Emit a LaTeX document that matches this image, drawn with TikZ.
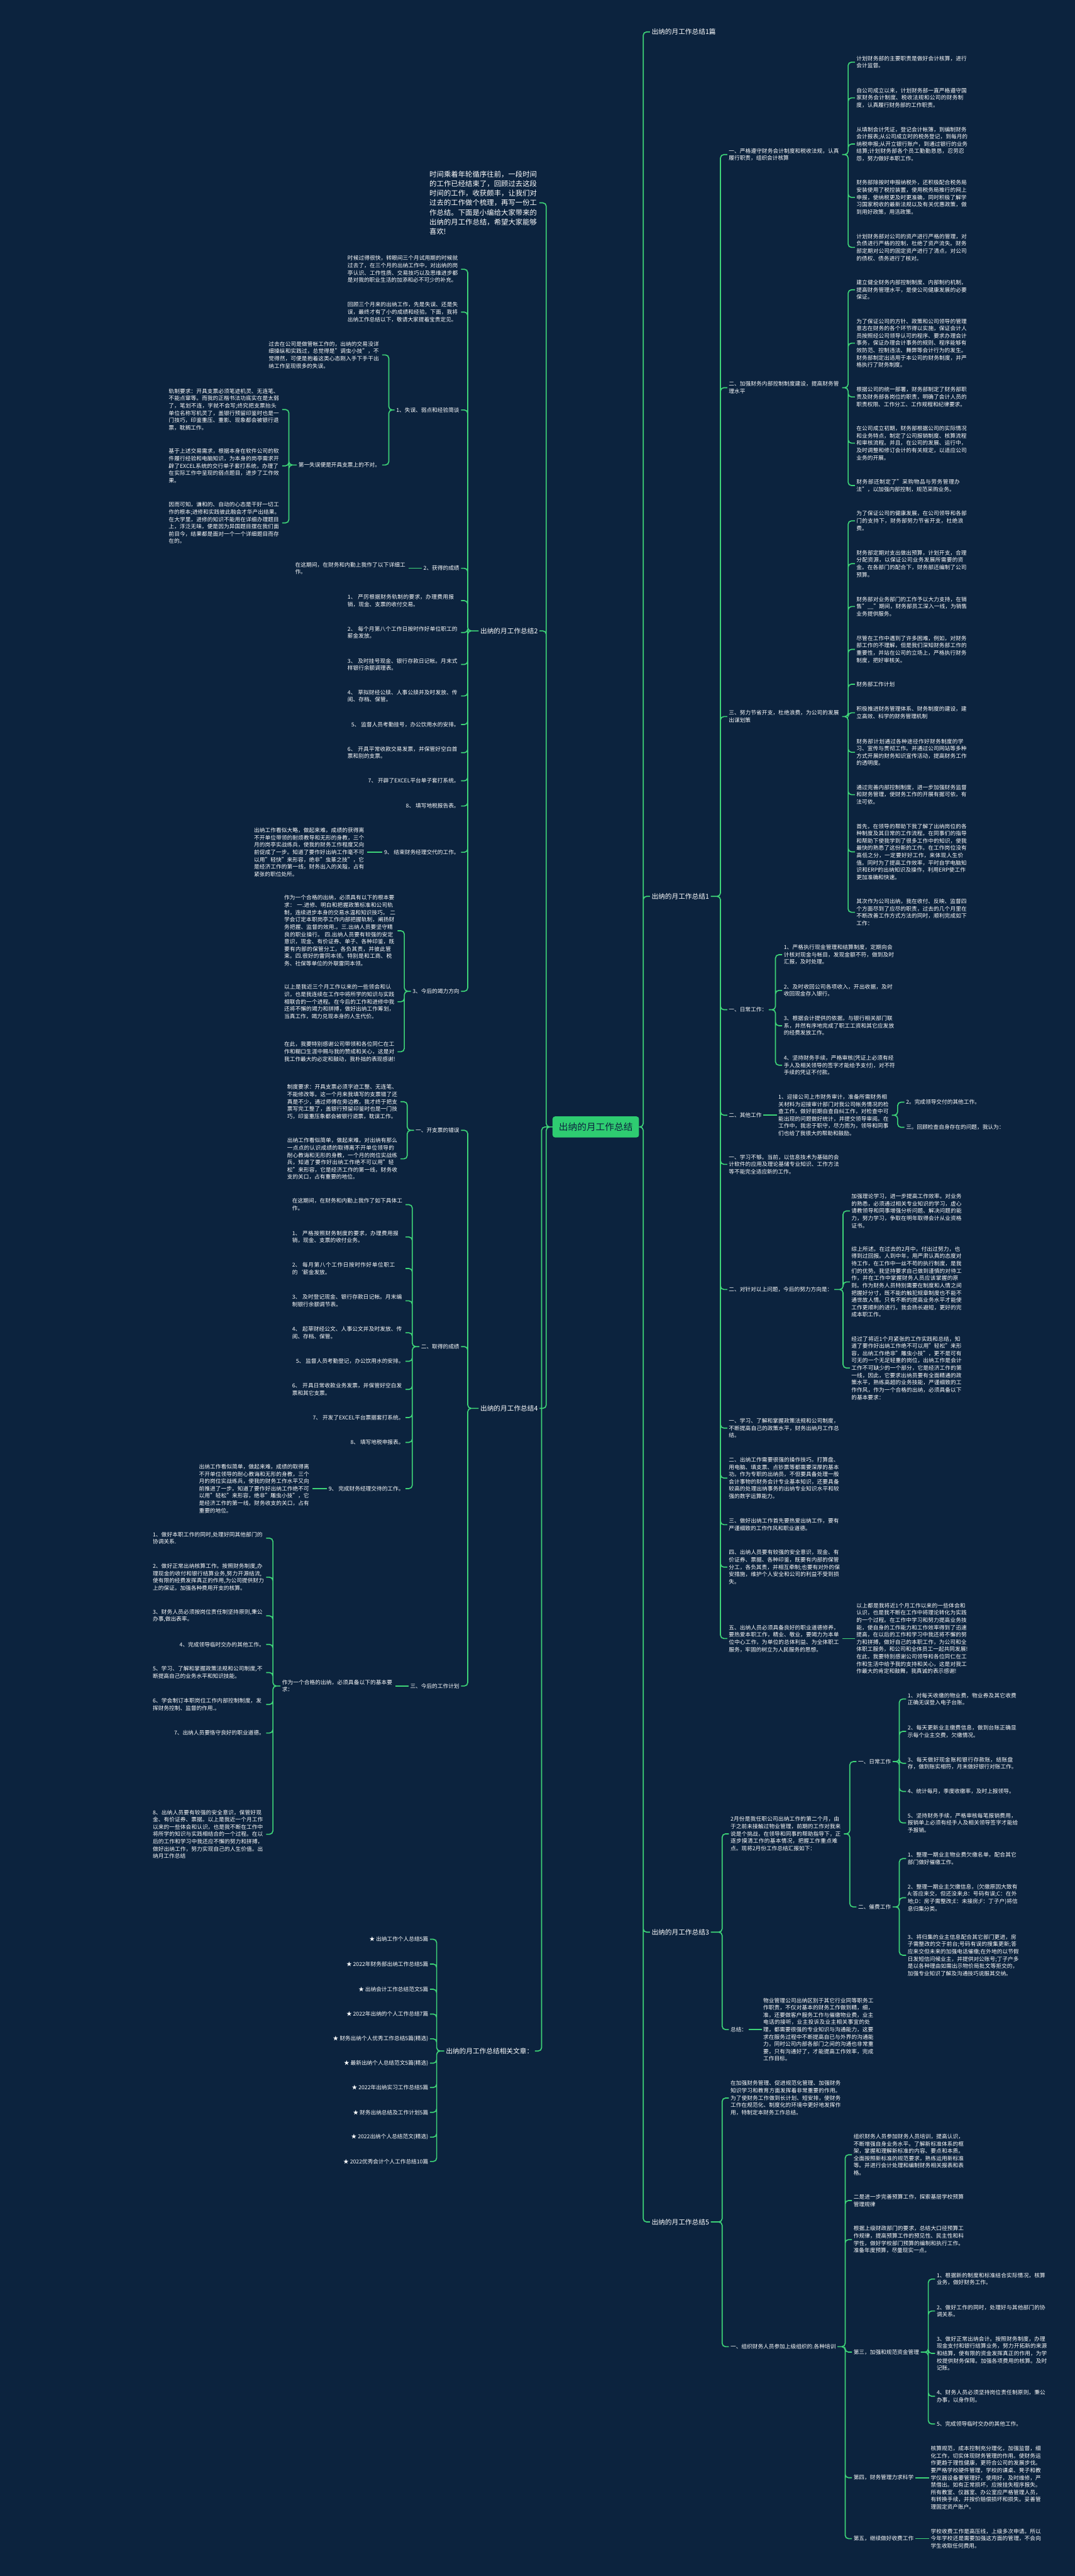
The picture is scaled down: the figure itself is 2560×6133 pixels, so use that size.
\documentclass[tikz,border=0pt]{standalone}
\usepackage{fontspec}
\setmainfont{Noto Sans CJK SC}
\XeTeXlinebreaklocale "zh"
\XeTeXlinebreakskip = 0pt plus 1pt
\usetikzlibrary{calc}
\definecolor{bgblue}{RGB}{12,35,62}
\definecolor{linegreen}{RGB}{62,212,120}
\definecolor{rootgreen}{RGB}{46,204,113}

\begin{document}
\begin{tikzpicture}[x=1pt,y=-1pt,
    every node/.append style={text=white,inner sep=0pt,outer sep=4pt,font=\fontsize{13}{17.4}\selectfont},
    para/.style={text width=266pt,align=left},
    lbl/.style={font=\fontsize{16}{20}\selectfont},
    rootbox/.style={fill=rootgreen,text=bgblue,font=\fontsize{22}{26}\selectfont,rounded corners=6pt,
        minimum width=206pt,minimum height=50pt,outer sep=0pt},
    link/.style={draw=linegreen,line width=2.5pt},
    linkR/.style={link,rounded corners=8pt,to path={-| ($(\tikztotarget)+(-16,0)$) -- (\tikztotarget)}},
    linkL/.style={link,rounded corners=8pt,to path={-| ($(\tikztotarget)+(16,0)$) -- (\tikztotarget)}}
  ]
  \useasboundingbox[fill=bgblue] (0,0) rectangle (2560,6133);

  \node[rootbox] (root) at (1419,2683) {出纳的月工作总结};

  % left side
  \node[para,anchor=east,text width=258pt,font=\fontsize{17}{22.7}\selectfont] (intro) at (1285,483) {时间乘着年轮循序往前，一段时间的工作已经结束了，回顾过去这段时间的工作，收获颇丰，让我们对过去的工作做个梳理，再写一份工作总结。下面是小编给大家带来的出纳的月工作总结，希望大家能够喜欢!};

  \node[lbl,anchor=east] (s2) at (1285,1502) {出纳的月工作总结2};
  \node[para,anchor=east] (s2a) at (1098,641) {时候过得很快，转眼间三个月试用期的时候就过去了，在三个月的出纳工作中，对出纳的岗亭认识、工作性质、交易技巧以及思维进步都是对我的职业生活的加添和必不可少的补充。};
  \node[para,anchor=east] (s2b) at (1098,743) {回顾三个月来的出纳工作，先是失误、还是失误，最终才有了小的成绩和经验。下面，我将出纳工作总结以下，敬请大家提着宝贵定见。};
  \node[anchor=east] (s2c) at (1098,976) {1、失误、弱点和经验简谈};
  \node[para,anchor=east] (s2c1) at (910,845) {过去在公司是做管帐工作的，出纳的交易没详细操纵和实践过，总觉得是"调虫小技"，不觉得然，可便是抱着这类心态刚入手下手干出纳工作呈现很多的失误。};
  \node[anchor=east] (s2c2) at (910,1107) {第一失误便是开具支票上的不对。};
  \node[para,anchor=east] (s2c2a) at (672,975) {轨制要求：开具支票必须笔迹机灵、无连笔、不能点窜等。而我的正楷书法功底实在是太弱了，笔划不连，字就不会写;终究把支票抬头单位名称写机灵了，盖银行预留印鉴时也是一门技巧，印鉴重压、重影、现象都会被银行退票，耽搁工作。};
  \node[para,anchor=east] (s2c2b) at (672,1109) {基于上述交易需求，根据本身在软件公司的软件履行经验和电脑知识，为本身的岗亭需求开辟了EXCEL系统的交行单子套打系统，办理了在实际工作中呈现的弱点题目，进步了工作效果。};
  \node[para,anchor=east] (s2c2c) at (672,1245) {因而可知，谦和的、自动的心态是干好一切工作的根本;进修和实践彼此融会才华产出结果。在大学里，进修的知识不能用在详细办理题目上，浮泛无味，便是因为异国题目摆在我们面前目今，结果都是面对一个一个详细题目而存在的。};
  \node[anchor=east] (s2d) at (1098,1353) {2、获得的成绩};
  \node[para,anchor=east] (s2d1) at (973,1353) {在这期间，在财务和内勤上我作了以下详细工作。};
  \node[para,anchor=east] (s2e1) at (1098,1430) {1、 严厉根据财务轨制的要求，办理费用报销，现金、支票的收付交易。};
  \node[para,anchor=east] (s2e2) at (1098,1506) {2、 每个月第八个工作日按时作好单位职工的薪金发放。};
  \node[para,anchor=east] (s2e3) at (1098,1582) {3、 及时挂号现金、银行存款日记帐。月末式样银行余额调理表。};
  \node[para,anchor=east] (s2e4) at (1098,1657) {4、 草拟财经公牍、人事公牍并及时发放、传阅、存档、保管。};
  \node[anchor=east] (s2e5) at (1098,1725) {5、 监督人员考勤挂号，办公饮用水的安排。};
  \node[para,anchor=east] (s2e6) at (1098,1792) {6、 开具平常收款交易发票，并保管好空白首票和别的支票。};
  \node[anchor=east] (s2e7) at (1098,1859) {7、 开辟了EXCEL平台单子套打系统。};
  \node[anchor=east] (s2e8) at (1098,1919) {8、 填写地税报告表。};
  \node[anchor=east] (s2e9) at (1098,2029) {9、 结束财务经理交代的工作。};
  \node[para,anchor=east] (s2e9a) at (875,2029) {出纳工作看似大略，做起来难，成绩的获得离不开单位带领的耐烦教导和无形的身教，三个月的岗亭实战练兵，使我的财务工作程度又向前促成了一步。知道了要作好出纳工作毫不可以用"轻快"来形容，绝非"虫篆之技"，它是经济工作的第一线，财务出入的关隘，占有紧张的职位处所。};
  \node[anchor=east] (s2f) at (1098,2360) {3、今后的竭力方向};
  \node[para,anchor=east] (s2f1) at (947,2216) {作为一个合格的出纳，必须具有以下的根本要求： 一.进修、明白和把握政策标准和公司轨制，连续进步本身的交易水温和知识技巧。 二学会订定本职岗亭工作内部把握轨制，阐扬财务把握、监督的效用.。三.出纳人员要坚守精良的职业操行。 四.出纳人员要有较强的安定意识，现金、有价证券、单子、各种印鉴，既要有内部的保管分工，各负其责，并彼此管束。四.很好的雷同本领。特别是和工商、税务、社保等单位的外联雷同本领。};
  \node[para,anchor=east] (s2f2) at (947,2385) {以上是我近三个月工作以来的一些领会和认识，也是我连续在工作中将所学的知识与实践相联合的一个进程。在今后的工作和进修中我还将不懈的竭力和拼搏，做好出纳工作筹划，当真工作，竭力兑现本身的人生代价。};
  \node[para,anchor=east] (s2f3) at (947,2504) {在此，我要特别感谢公司带领和各位同仁在工作和糊口生涯中赐与我的赞成和关心，这是对我工作最大的必定和鼓动，我朴拙的表现感谢!};

  \node[lbl,anchor=east] (s4) at (1285,3353) {出纳的月工作总结4};
  \node[anchor=east] (s4a) at (1098,2691) {一、开支票的错误};
  \node[para,anchor=east] (s4a1) at (954,2623) {制度要求：开具支票必须字迹工整、无连笔、不能修改等。这一个月来我填写的支票错了还真是不少，通过师傅在旁边教，我才终于把支票写完工整了，盖银行预留印鉴时也是一门技巧，印鉴重压象都会被银行退票，耽误工作。};
  \node[para,anchor=east] (s4a2) at (954,2759) {出纳工作看似简单，做起来难，对出纳有那么一点点的认识成绩的取得离不开单位领导的耐心教诲和无形的身教，一个月的岗位实战练兵，知道了要作好出纳工作绝不可以用"轻松"来形容，它是经济工作的第一线，财务收支的关口，占有重要的地位。};
  \node[anchor=east] (s4b) at (1098,3206) {二、取得的成绩};
  \node[para,anchor=east] (s4b1) at (966,2868) {在这期间，在财务和内勤上我作了如下具体工作。};
  \node[para,anchor=east] (s4b2) at (966,2945) {1、 严格按照财务制度的要求，办理费用报销，现金、支票的收付业务。};
  \node[para,anchor=east] (s4b3) at (966,3020) {2、 每月第八个工作日按时作好单位职工的`薪金发放。};
  \node[para,anchor=east] (s4b4) at (966,3097) {3、 及时登记现金、银行存款日记帐。月末编制银行余额调节表。};
  \node[para,anchor=east] (s4b5) at (966,3173) {4、 起草财经公文、人事公文并及时发放、传阅、存档、保管。};
  \node[anchor=east] (s4b6) at (966,3241) {5、 监督人员考勤登记，办公饮用水的安排。};
  \node[para,anchor=east] (s4b7) at (966,3308) {6、 开具日常收款业务发票，并保管好空白发票和其它支票。};
  \node[anchor=east] (s4b8) at (966,3375) {7、 开发了EXCEL平台票据套打系统。};
  \node[anchor=east] (s4b9) at (966,3434) {8、 填写地税申报表。};
  \node[anchor=east] (s4b10) at (966,3544) {9、 完成财务经理交待的工作。};
  \node[para,anchor=east] (s4b10a) at (744,3544) {出纳工作看似简单，做起来难，成绩的取得离不开单位领导的耐心教诲和无形的身教，三个月的岗位实战练兵，使我的财务工作水平又向前推进了一步。知道了要作好出纳工作绝不可以用"轻松"来形容，绝非"雕虫小技"，它是经济工作的第一线，财务收支的关口，占有重要的地位。};
  \node[anchor=east] (s4c) at (1098,4014) {三、今后的工作计划};
  \node[para,anchor=east] (s4c1) at (942,4014) {作为一个合格的出纳，必须具备以下的基本要求：};
  \node[para,anchor=east] (s4c1a) at (634,3662) {1、做好本职工作的同时,处理好同其他部门的协调关系.};
  \node[para,anchor=east] (s4c1b) at (634,3755) {2、做好正常出纳核算工作。按照财务制度,办理现金的收付和银行结算业务,努力开源结流,使有限的经费发挥真正的作用,为公司提供财力上的保证。加强各种费用开支的核算。};
  \node[para,anchor=east] (s4c1c) at (634,3847) {3、财务人员必须按岗位责任制坚持原则,秉公办事,做出表率。};
  \node[anchor=east] (s4c1d) at (634,3915) {4、完成领导临时交办的其他工作。};
  \node[para,anchor=east] (s4c1e) at (634,3982) {5、学习、了解和掌握政策法规和公司制度,不断提高自己的业务水平和知识技能。};
  \node[para,anchor=east] (s4c1f) at (634,4058) {6、学会制订本职岗位工作内部控制制度，发挥财务控制、监督的作用.。};
  \node[anchor=east] (s4c1g) at (634,4126) {7、出纳人员要恪守良好的职业道德。};
  \node[para,anchor=east] (s4c1h) at (634,4367) {8、出纳人员要有较强的安全意识，保管好现金、有价证券、票据。以上是我近一个月工作以来的一些体会和认识，也是我不断在工作中将所学的知识与实践相结合的一个过程。在以后的工作和学习中我还应不懈的努力和拼搏，做好出纳工作，努力实现自己的人生价值。出纳月工作总结};

  \node[lbl,anchor=east] (rel) at (1274,4883) {出纳的月工作总结相关文章：};
  \node[anchor=east] (rel1) at (1024,4617) {★ 出纳工作个人总结5篇};
  \node[anchor=east] (rel2) at (1024,4676) {★ 2022年财务部出纳工作总结5篇};
  \node[anchor=east] (rel3) at (1024,4736) {★ 出纳会计工作总结范文5篇};
  \node[anchor=east] (rel4) at (1024,4795) {★ 2022年出纳的个人工作总结7篇};
  \node[anchor=east] (rel5) at (1024,4854) {★ 财务出纳个人优秀工作总结5篇(精选)};
  \node[anchor=east] (rel6) at (1024,4912) {★ 最新出纳个人总结范文5篇(精选)};
  \node[anchor=east] (rel7) at (1024,4970) {★ 2022年出纳实习工作总结5篇};
  \node[anchor=east] (rel8) at (1024,5029) {★ 财务出纳总结及工作计划5篇};
  \node[anchor=east] (rel9) at (1024,5088) {★ 2022出纳个人总结范文(精选)};
  \node[anchor=east] (rel10) at (1024,5146) {★ 2022优秀会计个人工作总结10篇};

  % right side
  \node[lbl,anchor=west] (s1p) at (1548,76) {出纳的月工作总结1篇};

  \node[lbl,anchor=west] (s1) at (1548,2134) {出纳的月工作总结1};
  \node[para,anchor=west] (s1a) at (1732,368) {一、严格遵守财务会计制度和税收法规，认真履行职责，组织会计核算};
  \node[para,anchor=west] (s1a1) at (2036,148) {计划财务部的主要职责是做好会计核算，进行会计监督。};
  \node[para,anchor=west] (s1a2) at (2036,233) {自公司成立以来，计划财务部一直严格遵守国家财务会计制度、税收法规和公司的财务制度，认真履行财务部的工作职责。};
  \node[para,anchor=west] (s1a3) at (2036,343) {从填制会计凭证，登记会计帐簿，到编制财务会计报表;从公司成立时的税务登记，到每月的纳税申报;从开立银行账户，到通过银行的业务结算;计划财务部各个员工勤勤恳恳，忍劳忍怨，努力做好本职工作。};
  \node[para,anchor=west] (s1a4) at (2036,470) {财务部除按时申报纳税外，还积极配合税务局安装使用了税控装置，使用税务局推行的网上申报，使纳税更及时更准确，同时积极了解学习国家税收的最新法规以及有关优惠政策，做到用好政策，用活政策。};
  \node[para,anchor=west] (s1a5) at (2036,589) {计划财务部对公司的资产进行严格的管理，对负债进行严格的控制，杜绝了资产流失。财务部定期对公司的固定资产进行了清点，对公司的债权、债务进行了核对。};
  \node[para,anchor=west] (s1b) at (1732,923) {二、加强财务内部控制制度建设，提高财务管理水平};
  \node[para,anchor=west] (s1b1) at (2036,690) {建立健全财务内部控制制度、内部制约机制，提高财务管理水平，是使公司健康发展的必要保证。};
  \node[para,anchor=west] (s1b2) at (2036,817) {为了保证公司的方针、政策和公司领导的管理意志在财务的各个环节得以实施，保证会计人员按照经公司领导认可的程序、要求办理会计事务，保证办理会计事务的规则、程序能够有效防范、控制违法、舞弊等会计行为的发生。财务部制定出适用于本公司的财务制度，并严格执行了财务制度。};
  \node[para,anchor=west] (s1b3) at (2036,945) {根据公司的统一部署，财务部制定了财务部职责及财务部各岗位的职责，明确了会计人员的职责权限、工作分工、工作规程和纪律要求。};
  \node[para,anchor=west] (s1b4) at (2036,1055) {在公司成立初期，财务部根据公司的实际情况和业务特点，制定了公司报销制度、核算流程和审核流程。并且，在公司的发展、运行中，及时调整和修订会计的有关规定，以适应公司业务的开展。};
  \node[para,anchor=west] (s1b5) at (2036,1156) {财务部还制定了"采购物品与劳务管理办法"，以加强内部控制，规范采购业务。};
  \node[para,anchor=west] (s1c) at (1732,1706) {三、努力节省开支，杜绝浪费，为公司的发展出谋划策};
  \node[para,anchor=west] (s1c1) at (2036,1240) {为了保证公司的健康发展，在公司领导和各部门的支持下，财务部努力节省开支，杜绝浪费。};
  \node[para,anchor=west] (s1c2) at (2036,1342) {财务部定期对支出做出预算，计划开支，合理分配资源，以保证公司业务发展所需要的资金。在各部门的配合下，财务部还编制了公司预算。};
  \node[para,anchor=west] (s1c3) at (2036,1444) {财务部对业务部门的工作予以大力支持，在销售"\_\_"期间，财务部员工深入一线，为销售业务提供服务。};
  \node[para,anchor=west] (s1c4) at (2036,1546) {尽管在工作中遇到了许多困难，例如，对财务部工作的不理解，但是我们深知财务部工作的重要性，并站在公司的立场上，严格执行财务制度，把好审核关。};
  \node[anchor=west] (s1c5) at (2036,1629) {财务部工作计划};
  \node[para,anchor=west] (s1c6) at (2036,1697) {积极推进财务管理体系、财务制度的建设，建立高效、科学的财务管理机制};
  \node[para,anchor=west] (s1c7) at (2036,1791) {财务部计划通过各种途径作好财务制度的学习、宣传与贯彻工作。并通过公司网站等多种方式开展的财务知识宣传活动，提高财务工作的透明度。};
  \node[para,anchor=west] (s1c8) at (2036,1892) {通过完善内部控制制度，进一步加强财务监督和财务管理，使财务工作的开展有据可依，有法可依。};
  \node[para,anchor=west] (s1c9) at (2036,2028) {首先，在领导的帮助下我了解了出纳岗位的各种制度及其日常的工作流程。在同事们的指导和帮助下使我学到了很多工作中的知识，使我最快的熟悉了这份新的工作。在工作岗位没有高低之分，一定要好好工作，来体现人生价值。同时为了提高工作效率，平时自学电脑知识和ERP的出纳知识及操作，利用ERP使工作更加准确和快速。};
  \node[para,anchor=west] (s1c10) at (2036,2172) {其次作为公司出纳，我在收付、反映、监督四个方面尽到了应尽的职责，过去的几个月里在不断改善工作方式方法的同时，顺利完成如下工作：};
  \node[anchor=west] (s1d) at (1732,2404) {一、日常工作：};
  \node[para,anchor=west] (s1d1) at (1863,2273) {1、严格执行现金管理和结算制度，定期向会计核对现金与帐目，发现金额不符，做到及时汇报，及时处理。};
  \node[para,anchor=west] (s1d2) at (1863,2358) {2、及时收回公司各项收入，开出收据，及时收回现金存入银行。};
  \node[para,anchor=west] (s1d3) at (1863,2442) {3、根据会计提供的依据，与银行相关部门联系，井然有序地完成了职工工资和其它应发放的经费发放工作。};
  \node[para,anchor=west] (s1d4) at (1863,2536) {4、坚持财务手续，严格审核(凭证上必须有经手人及相关领导的签字才能给予支付)，对不符手续的凭证不付款。};
  \node[anchor=west] (s1e) at (1732,2655) {二、其他工作};
  \node[para,anchor=west] (s1e1) at (1850,2655) {1、迎接公司上市财务审计，准备所需财务相关材料为迎接审计部门对我公司帐务情况的检查工作，做好前期自查自纠工作，对检查中可能出现的问题做好统计，并提交领导审阅。在工作中，我忠于职守，尽力而为，领导和同事们也给了我很大的帮助和鼓励。};
  \node[anchor=west] (s1e1a) at (2154,2624) {2。完成领导交付的其他工作。};
  \node[anchor=west] (s1e1b) at (2154,2684) {三。回顾检查自身存在的问题，我认为：};
  \node[para,anchor=west] (s1f) at (1732,2772) {一、学习不够。当前，以信息技术为基础的会计软件的应用及理论基储专业知识、工作方法等不能完全适应新的工作。};
  \node[anchor=west] (s1g) at (1732,3070) {二、对针对以上问题，今后的努力方向是：};
  \node[para,anchor=west] (s1g1) at (2024,2883) {加强理论学习，进一步提高工作效率。对业务的熟悉，必须通过相关专业知识的学习，虚心请教领导和同事增强分析问题、解决问题的能力，努力学习，争取在明年取得会计从业资格证书。};
  \node[para,anchor=west] (s1g2) at (2024,3052) {综上所述。在过去的2月中，付出过努力，也得到过回报。人到中年，用严肃认真的态度对待工作，在工作中一丝不苟的执行制度，是我们的优势。我坚持要求自己做到谨慎的对待工作，并在工作中掌握财务人员应该掌握的原则。作为财务人员特别需要在制度和人情之间把握好分寸，既不能的触犯规章制度也不能不通世故人情。只有不断的提高业务水平才能使工作更顺利的进行。我会扬长避短，更好的完成本职工作。};
  \node[para,anchor=west] (s1g3) at (2024,3257) {经过了将近1个月紧张的工作实践和总结，知道了要作好出纳工作绝不可以用"轻松"来形容，出纳工作绝非"雕虫小技"，更不是可有可无的一个无足轻重的岗位，出纳工作是会计工作不可缺少的一个部分，它是经济工作的第一线，因此，它要求出纳员要有全面精通的政策水平，熟练高超的业务技能，严谨细致的工作作风，作为一个合格的出纳，必须具备以下的基本要求：};
  \node[para,anchor=west] (s1h) at (1732,3400) {一、学习、了解和掌握政策法规和公司制度，不断提高自己的政策水平，财务出纳月工作总结。};
  \node[para,anchor=west] (s1i) at (1732,3519) {二、出纳工作需要很强的操作技巧。打算盘、用电脑、填支票、点钞票等都需要深厚的基本功。作为专职的出纳员，不但要具备处理一般会计事物的财务会计专业基本知识，还要具备较高的处理出纳事务的出纳专业知识水平和较强的数字运算能力。};
  \node[para,anchor=west] (s1j) at (1732,3630) {三、做好出纳工作首先要热爱出纳工作，要有严谨细致的工作作风和职业道德。};
  \node[para,anchor=west] (s1k) at (1732,3731) {四、出纳人员要有较强的安全意识，现金、有价证券、票据、各种印鉴，既要有内部的保管分工，各负其责，并相互牵制;也要有对外的保安措施，维护个人安全和公司的利益不受到损失。};
  \node[para,anchor=west] (s1l) at (1732,3901) {五、出纳人员必须具备良好的职业道德修养，要热爱本职工作，精业、敬业，要竭力为本单位中心工作，为单位的总体利益、为全体职工服务，牢固的树立为人民服务的思想。};
  \node[para,anchor=west] (s1l1) at (2036,3901) {以上都是我将近1个月工作以来的一些体会和认识，也是我不断在工作中将理论转化为实践的一个过程。在工作中学习和努力提高业务技能，使自身的工作能力和工作效率得到了迅速提高，在以后的工作和学习中我还将不懈的努力和拼搏，做好自己的本职工作，为公司和全体职工服务，和公司和全体员工一起共同发展!在此，我要特别感谢公司领导和各位同仁在工作和生活中给予我的支持和关心，这是对我工作最大的肯定和鼓舞，我真诚的表示感谢!};

  \node[lbl,anchor=west] (s3) at (1548,4600) {出纳的月工作总结3};
  \node[para,anchor=west] (s3a) at (1736,4366) {2月份是我任职公司出纳工作的第二个月，由于之前未接触过物业管理，前期的工作对我来说是个挑战，在领导和同事的帮助指导下，正逐步摸清工作的基本情况，把握工作重点难点。现将2月份工作总结汇报如下：};
  \node[anchor=west] (s3a1) at (2040,4194) {一、日常工作};
  \node[para,anchor=west] (s3a11) at (2158,4045) {1、对每天收缴的物业费，物业券及其它收费正确无误登入电子台账。};
  \node[para,anchor=west] (s3a12) at (2158,4122) {2、每天更新业主缴费信息，做到台账正确显示每个业主交费，欠缴情况。};
  \node[para,anchor=west] (s3a13) at (2158,4198) {3、每天做好现金账和银行存款账，结账盘存，做到账实相符，月末做好银行对账工作。};
  \node[anchor=west] (s3a14) at (2158,4265) {4、统计每月，季度收缴率，及时上报领导。};
  \node[para,anchor=west] (s3a15) at (2158,4340) {5、坚持财务手续，严格审核每笔报销费用，报销单上必须有经手人及相关领导签字才能给予报销。};
  \node[anchor=west] (s3a2) at (2040,4540) {二、催费工作};
  \node[para,anchor=west] (s3a21) at (2158,4425) {1、整理一期业主物业费欠缴名单，配合其它部门做好催缴工作。};
  \node[para,anchor=west] (s3a22) at (2158,4518) {2、整理一期业主欠缴信息，(欠缴原因大致有A:答应来交，但还没来;B：号码有误;C：在外地;D：房子需整改;E：未接房;F：丁子户)将信息归集分类。};
  \node[para,anchor=west] (s3a23) at (2158,4655) {3、将归集的业主信息配合其它部门更进，房子需整改的交于前台;号码有误的搜集更新;答应来交但未来的加强电话催缴;在外地的以节假日发短信问候业主，并提供对公账号;丁子户多是以各种理由如需出示物价局批文等拒交的，加强专业知识了解及沟通技巧说服其交纳。};
  \node[anchor=west] (s3b) at (1736,4832) {总结：};
  \node[para,anchor=west] (s3b1) at (1814,4832) {物业管理公司出纳区别于其它行业同等职务工作职责，不仅对基本的财务工作做到精，细，准，还要做客户服务工作与催缴物业费，业主电话的接听，业主投诉及业主相关事宜的处理，都需要很强的专业知识与沟通能力，这要求在服务过程中不断提高自已与外界的沟通能力，同时公司内部各部门之间的沟通也非常重要，只有沟通好了，才能提高工作效率，完成工作目标。};

  \node[lbl,anchor=west] (s5) at (1548,5290) {出纳的月工作总结5};
  \node[para,anchor=west] (s5a) at (1736,4995) {在加强财务管理、促进规范化管理、加强财务知识学习和教育方面发挥着非常重要的作用。为了使财务工作做到长计划、短安排，使财务工作在规范化、制度化的环境中更好地发挥作用，特制定本财务工作总结。};
  \node[anchor=west] (s5b) at (1736,5587) {一、组织财务人员参加上级组织的.各种培训};
  \node[para,anchor=west] (s5b1) at (2029,5130) {组织财务人员参加财务人员培训，提高认识，不断增强自身业务水平。了解新标准体系的框架，掌握和理解新标准的内容、要点和本质。全面按照新标准的规范要求，熟练运用新标准等。并进行会计处理和编制财务相关报表和表格。};
  \node[para,anchor=west] (s5b2) at (2029,5239) {二是进一步完善预算工作，探索基层学校预算管理规律};
  \node[para,anchor=west] (s5b3) at (2029,5332) {根据上级财政部门的要求，总结大口径预算工作规律，提高预算工作的预见性、民主性和科学性，做好学校部门预算的编制和执行工作。准备年度预算，尽量现实一点。};
  \node[anchor=west] (s5b4) at (2029,5600) {第三，加强和规范资金管理};
  \node[para,anchor=west] (s5b41) at (2227,5426) {1、根据新的制度和标准结合实际情况，核算业务，做好财务工作。};
  \node[para,anchor=west] (s5b42) at (2227,5502) {2、做好工作的同时，处理好与其他部门的协调关系。};
  \node[para,anchor=west] (s5b43) at (2227,5603) {3、做好正常出纳会计。按照财务制度，办理现金支付和银行结算业务，努力开拓新的来源和结算，使有限的资金发挥真正的作用，为学校提供财务保障。加强各项费用的核算。及时记账。};
  \node[para,anchor=west] (s5b44) at (2227,5705) {4、财务人员必须坚持岗位责任制原则，秉公办事，以身作则。};
  \node[anchor=west] (s5b45) at (2227,5771) {5、完成领导临时交办的其他工作。};
  \node[anchor=west] (s5b5) at (2029,5899) {第四，财务管理力求科学};
  \node[para,anchor=west] (s5b51) at (2213,5899) {核算规范，成本控制充分理化，加强监督，细化工作，切实体现财务管理的作用。使财务运作更趋于理性健康，更符合公司的发展步伐。要严格学校硬件管理，学校的课桌、凳子和教学仪器设备要管理好，使用好，及时维修，严禁借出。如有正常损坏，应按挂失程序报失。所有教室、仪器室、办公室应严格管理人员，有转换手续，并按价赔偿损坏和损失。妥善管理固定资产账户。};
  \node[anchor=west] (s5b6) at (2029,6044) {第五，继续做好收费工作};
  \node[para,anchor=west] (s5b61) at (2213,6044) {学校收费工作是高压线，上级多次申请。所以今年学校还是需要加强这方面的管理，不会向学生收取任何费用。};

  % connectors
  \draw[linkL] (root.west) to (intro.east) (root.west) to (s2.east) (root.west) to (s4.east) (root.west) to (rel.east);
  \draw[linkR] (root.east) to (s1p.west) (root.east) to (s1.west) (root.east) to (s3.west) (root.east) to (s5.west);

  \draw[linkL] (s2.west) to (s2a.east) (s2.west) to (s2b.east) (s2.west) to (s2c.east) (s2.west) to (s2d.east)
    (s2.west) to (s2e1.east) (s2.west) to (s2e2.east) (s2.west) to (s2e3.east) (s2.west) to (s2e4.east)
    (s2.west) to (s2e5.east) (s2.west) to (s2e6.east) (s2.west) to (s2e7.east) (s2.west) to (s2e8.east)
    (s2.west) to (s2e9.east) (s2.west) to (s2f.east);
  \draw[linkL] (s2c.west) to (s2c1.east) (s2c.west) to (s2c2.east);
  \draw[linkL] (s2c2.west) to (s2c2a.east) (s2c2.west) to (s2c2b.east) (s2c2.west) to (s2c2c.east);
  \draw[link] (s2d.west) -- (s2d1.east);
  \draw[link] (s2e9.west) -- (s2e9a.east);
  \draw[linkL] (s2f.west) to (s2f1.east) (s2f.west) to (s2f2.east) (s2f.west) to (s2f3.east);

  \draw[linkL] (s4.west) to (s4a.east) (s4.west) to (s4b.east) (s4.west) to (s4c.east);
  \draw[linkL] (s4a.west) to (s4a1.east) (s4a.west) to (s4a2.east);
  \draw[linkL] (s4b.west) to (s4b1.east) (s4b.west) to (s4b2.east) (s4b.west) to (s4b3.east) (s4b.west) to (s4b4.east)
    (s4b.west) to (s4b5.east) (s4b.west) to (s4b6.east) (s4b.west) to (s4b7.east) (s4b.west) to (s4b8.east)
    (s4b.west) to (s4b9.east) (s4b.west) to (s4b10.east);
  \draw[link] (s4b10.west) -- (s4b10a.east);
  \draw[link] (s4c.west) -- (s4c1.east);
  \draw[linkL] (s4c1.west) to (s4c1a.east) (s4c1.west) to (s4c1b.east) (s4c1.west) to (s4c1c.east) (s4c1.west) to (s4c1d.east)
    (s4c1.west) to (s4c1e.east) (s4c1.west) to (s4c1f.east) (s4c1.west) to (s4c1g.east) (s4c1.west) to (s4c1h.east);

  \draw[linkL] (rel.west) to (rel1.east) (rel.west) to (rel2.east) (rel.west) to (rel3.east) (rel.west) to (rel4.east)
    (rel.west) to (rel5.east) (rel.west) to (rel6.east) (rel.west) to (rel7.east) (rel.west) to (rel8.east)
    (rel.west) to (rel9.east) (rel.west) to (rel10.east);

  \draw[linkR] (s1.east) to (s1a.west) (s1.east) to (s1b.west) (s1.east) to (s1c.west) (s1.east) to (s1d.west)
    (s1.east) to (s1e.west) (s1.east) to (s1f.west) (s1.east) to (s1g.west) (s1.east) to (s1h.west)
    (s1.east) to (s1i.west) (s1.east) to (s1j.west) (s1.east) to (s1k.west) (s1.east) to (s1l.west);
  \draw[linkR] (s1a.east) to (s1a1.west) (s1a.east) to (s1a2.west) (s1a.east) to (s1a3.west) (s1a.east) to (s1a4.west) (s1a.east) to (s1a5.west);
  \draw[linkR] (s1b.east) to (s1b1.west) (s1b.east) to (s1b2.west) (s1b.east) to (s1b3.west) (s1b.east) to (s1b4.west) (s1b.east) to (s1b5.west);
  \draw[linkR] (s1c.east) to (s1c1.west) (s1c.east) to (s1c2.west) (s1c.east) to (s1c3.west) (s1c.east) to (s1c4.west)
    (s1c.east) to (s1c5.west) (s1c.east) to (s1c6.west) (s1c.east) to (s1c7.west) (s1c.east) to (s1c8.west)
    (s1c.east) to (s1c9.west) (s1c.east) to (s1c10.west);
  \draw[linkR] (s1d.east) to (s1d1.west) (s1d.east) to (s1d2.west) (s1d.east) to (s1d3.west) (s1d.east) to (s1d4.west);
  \draw[link] (s1e.east) -- (s1e1.west);
  \draw[linkR] (s1e1.east) to (s1e1a.west) (s1e1.east) to (s1e1b.west);
  \draw[linkR] (s1g.east) to (s1g1.west) (s1g.east) to (s1g2.west) (s1g.east) to (s1g3.west);
  \draw[link] (s1l.east) -- (s1l1.west);

  \draw[linkR] (s3.east) to (s3a.west) (s3.east) to (s3b.west);
  \draw[linkR] (s3a.east) to (s3a1.west) (s3a.east) to (s3a2.west);
  \draw[linkR] (s3a1.east) to (s3a11.west) (s3a1.east) to (s3a12.west) (s3a1.east) to (s3a13.west)
    (s3a1.east) to (s3a14.west) (s3a1.east) to (s3a15.west);
  \draw[linkR] (s3a2.east) to (s3a21.west) (s3a2.east) to (s3a22.west) (s3a2.east) to (s3a23.west);
  \draw[link] (s3b.east) -- (s3b1.west);

  \draw[linkR] (s5.east) to (s5a.west) (s5.east) to (s5b.west);
  \draw[linkR] (s5b.east) to (s5b1.west) (s5b.east) to (s5b2.west) (s5b.east) to (s5b3.west)
    (s5b.east) to (s5b4.west) (s5b.east) to (s5b5.west) (s5b.east) to (s5b6.west);
  \draw[linkR] (s5b4.east) to (s5b41.west) (s5b4.east) to (s5b42.west) (s5b4.east) to (s5b43.west)
    (s5b4.east) to (s5b44.west) (s5b4.east) to (s5b45.west);
  \draw[link] (s5b5.east) -- (s5b51.west);
  \draw[link] (s5b6.east) -- (s5b61.west);
\end{tikzpicture}
\end{document}
